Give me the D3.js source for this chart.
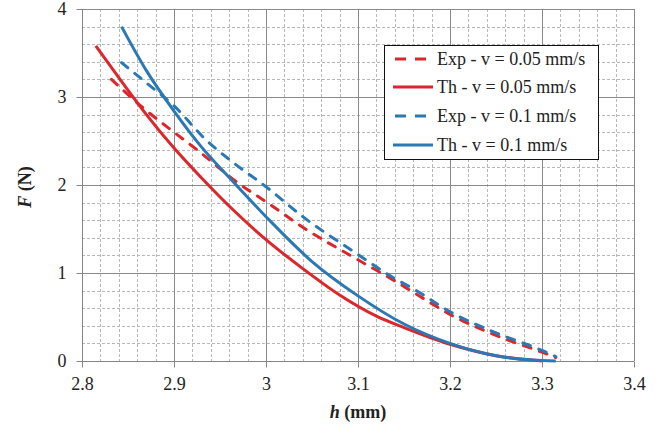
<!DOCTYPE html>
<html>
<head>
<meta charset="utf-8">
<script src="https://cdn.jsdelivr.net/npm/d3@7"></script>
<style>
  html, body { margin: 0; padding: 0; background: #fff; }
  svg { display: block; }
  text { font-family: "Liberation Serif", "Times New Roman", serif; fill: #222; }
</style>
</head>
<body>
<svg id="chart" width="665" height="434"></svg>
<script>
// ---- Data ----
const xTicks = [2.8, 2.9, 3.0, 3.1, 3.2, 3.3, 3.4];
const xTickLabels = ["2.8", "2.9", "3", "3.1", "3.2", "3.3", "3.4"];
const yTicks = [0, 1, 2, 3, 4];
const yTickLabels = ["0", "1", "2", "3", "4"];

const seriesNames = ["Exp - v = 0.05 mm/s", "Th - v = 0.05 mm/s", "Exp - v = 0.1 mm/s", "Th - v = 0.1 mm/s"];

// Exp - v = 0.05 mm/s
const hExp005 = [2.832, 2.866, 2.900, 2.925, 2.970, 3.000, 3.040, 3.100, 3.140, 3.165, 3.200, 3.250, 3.300, 3.315];
const fExp005 = [3.20, 2.88, 2.60, 2.40, 2.02, 1.81, 1.52, 1.15, 0.91, 0.75, 0.53, 0.29, 0.10, 0.04];
// Th - v = 0.05 mm/s
const hTh005 = [2.815, 2.840, 2.870, 2.900, 2.930, 2.965, 3.000, 3.040, 3.080, 3.120, 3.150, 3.200, 3.250, 3.300];
const fTh005 = [3.58, 3.22, 2.80, 2.42, 2.08, 1.71, 1.38, 1.05, 0.75, 0.51, 0.38, 0.19, 0.06, 0.00];
// Exp - v = 0.1 mm/s
const hExp01 = [2.843, 2.870, 2.900, 2.935, 2.965, 3.000, 3.040, 3.100, 3.130, 3.165, 3.200, 3.250, 3.300, 3.315];
const fExp01 = [3.39, 3.16, 2.90, 2.51, 2.25, 1.98, 1.64, 1.21, 1.00, 0.79, 0.56, 0.32, 0.12, 0.05];
// Th - v = 0.1 mm/s
const hTh01 = [2.843, 2.870, 2.900, 2.930, 2.965, 3.000, 3.050, 3.100, 3.150, 3.200, 3.250, 3.290, 3.315];
const fTh01 = [3.80, 3.30, 2.84, 2.43, 2.03, 1.64, 1.13, 0.74, 0.42, 0.20, 0.06, 0.01, 0.00];

const colors = ["#dc262b", "#dc262b", "#2a79b4", "#2a79b4"];
const dashed = [true, false, true, false];
const seriesH = [hExp005, hTh005, hExp01, hTh01];
const seriesF = [fExp005, fTh005, fExp01, fTh01];

// ---- Layout ----
const svg = d3.select("#chart");
const pLeft = 82, pRight = 634, pTop = 9, pBottom = 361;

const x = d3.scaleLinear().domain([2.8, 3.4]).range([pLeft, pRight]);
const y = d3.scaleLinear().domain([0, 4]).range([pBottom, pTop]);

// Minor grid
const g = svg.append("g");
const minorX = d3.range(0, 31).map(i => 2.8 + i * 0.02).filter((v, i) => i % 5 !== 0);
const minorY = d3.range(0, 21).map(i => i * 0.2).filter((v, i) => i % 5 !== 0);
g.selectAll(".mx").data(minorX).enter().append("line")
  .attr("x1", d => Math.round(x(d)) + 0.5).attr("x2", d => Math.round(x(d)) + 0.5)
  .attr("y1", pTop).attr("y2", pBottom)
  .attr("stroke", "#b8b8b8").attr("stroke-width", 1).attr("stroke-dasharray", "3,2");
g.selectAll(".my").data(minorY).enter().append("line")
  .attr("y1", d => Math.round(y(d)) + 0.5).attr("y2", d => Math.round(y(d)) + 0.5)
  .attr("x1", pLeft).attr("x2", pRight)
  .attr("stroke", "#b8b8b8").attr("stroke-width", 1).attr("stroke-dasharray", "3,2");

// Major grid
g.selectAll(".Mx").data(xTicks.slice(1)).enter().append("line")
  .attr("x1", d => Math.round(x(d)) + 0.5).attr("x2", d => Math.round(x(d)) + 0.5)
  .attr("y1", pTop).attr("y2", pBottom)
  .attr("stroke", "#8a8a8a").attr("stroke-width", 1);
g.selectAll(".My").data(yTicks.slice(1)).enter().append("line")
  .attr("y1", d => Math.round(y(d)) + 0.5).attr("y2", d => Math.round(y(d)) + 0.5)
  .attr("x1", pLeft).attr("x2", pRight)
  .attr("stroke", "#8a8a8a").attr("stroke-width", 1);

// Axes
const xAxis = d3.axisBottom(x).tickValues(xTicks).tickFormat((d, i) => xTickLabels[i]).tickSize(6).tickPadding(10);
const yAxis = d3.axisLeft(y).tickValues(yTicks).tickFormat((d, i) => yTickLabels[i]).tickSize(6).tickPadding(10);

const gx = svg.append("g").attr("transform", `translate(0,${pBottom + 0.5})`).call(xAxis);
const gy = svg.append("g").attr("transform", `translate(${pLeft + 0.5},0)`).call(yAxis);
[gx, gy].forEach(a => {
  a.select(".domain").attr("stroke", "#868686");
  a.selectAll(".tick line").attr("stroke", "#868686");
  a.selectAll(".tick text").attr("font-family", "Liberation Serif, serif").attr("font-size", 18).attr("fill", "#222");
});
gx.select(".domain").attr("d", `M${pLeft},0H${pRight}`);
gy.select(".domain").attr("d", `M0,${pTop}V${pBottom}`);

// Curves
const line = d3.line().x(d => x(d[0])).y(d => y(d[1])).curve(d3.curveMonotoneX);
seriesNames.forEach((name, i) => {
  const pts = seriesH[i].map((h, j) => [h, seriesF[i][j]]);
  svg.append("path")
    .datum(pts)
    .attr("d", line)
    .attr("fill", "none")
    .attr("stroke", colors[i])
    .attr("stroke-width", 3)
    .attr("stroke-linecap", dashed[i] ? "round" : "butt")
    .attr("stroke-dasharray", dashed[i] ? "8,9" : null);
});

// Legend
const lg = svg.append("g");
lg.append("rect").attr("x", 384.5).attr("y", 45.5).attr("width", 214).attr("height", 114)
  .attr("fill", "#fff").attr("stroke", "#111").attr("stroke-width", 1);
const rowY = [59, 87, 116, 145];
seriesNames.forEach((name, i) => {
  lg.append("line").attr("x1", dashed[i] ? 395 : 393).attr("x2", 433)
    .attr("y1", rowY[i]).attr("y2", rowY[i])
    .attr("stroke", colors[i]).attr("stroke-width", 3)
    .attr("stroke-dasharray", dashed[i] ? "11,9" : null);
  lg.append("text").attr("x", 437).attr("y", rowY[i] + 6)
    .attr("font-size", 18).text(name);
});

// Axis titles
const xt = svg.append("text").attr("x", 358).attr("y", 418).attr("text-anchor", "middle")
  .attr("font-size", 18).attr("font-weight", "bold");
xt.append("tspan").attr("font-style", "italic").text("h");
xt.append("tspan").text(" (mm)");

const yt = svg.append("text").attr("transform", "translate(31,187) rotate(-90)").attr("text-anchor", "middle")
  .attr("font-size", 18).attr("font-weight", "bold");
yt.append("tspan").attr("font-style", "italic").text("F");
yt.append("tspan").text(" (N)");
</script>
</body>
</html>
